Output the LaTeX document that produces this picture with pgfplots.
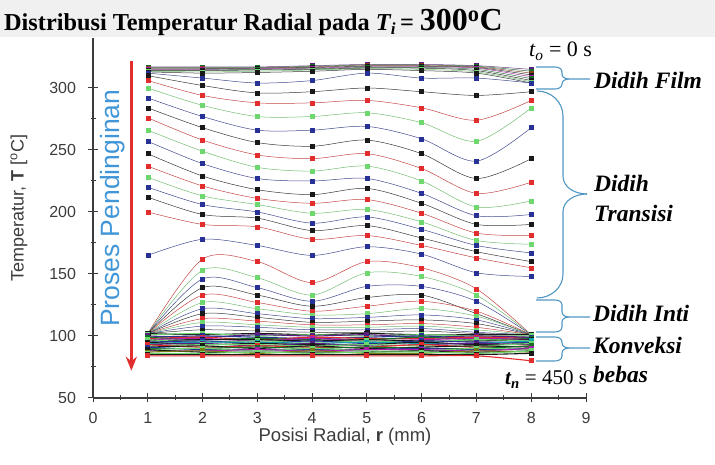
\documentclass[border=0pt]{standalone}
\usepackage{fontspec}
\setmainfont{Liberation Serif}
\setsansfont{Liberation Sans}
\usepackage{pgfplots}
\pgfplotsset{compat=1.18}
\usetikzlibrary{arrows.meta}

\definecolor{cblk}{RGB}{25,25,25}
\definecolor{cred}{RGB}{225,45,45}
\definecolor{cgrn}{RGB}{110,215,110}
\definecolor{cblu}{RGB}{40,50,150}
\definecolor{cmag}{RGB}{170,30,170}
\definecolor{colv}{RGB}{120,120,20}
\definecolor{cpur}{RGB}{90,30,130}
\definecolor{cdgn}{RGB}{20,110,40}
\definecolor{cbrn}{RGB}{140,60,30}
\definecolor{ccyn}{RGB}{20,160,170}
\definecolor{bracecol}{RGB}{80,150,195}
\definecolor{arrowtext}{RGB}{65,150,215}
\definecolor{axisgray}{RGB}{60,60,60}

% one temperature profile T(r) at r = 1..8 mm
\newcommand\crv[9]{\addplot[color=#1!70!gray, mark options={color=#1}]
  coordinates {(1,#2) (2,#3) (3,#4) (4,#5) (5,#6) (6,#7) (7,#8) (8,#9)};}
% profiles of the free-convection stage, drawn a little heavier
\newcommand\cv[9]{\addplot[color=#1, line width=1.1pt, mark options={color=#1}]
  coordinates {(1,#2) (2,#3) (3,#4) (4,#5) (5,#6) (6,#7) (7,#8) (8,#9)};}

% square bracket with a tip pointing right (pixel coordinates)
\newcommand\sqbrace[3]{%
  \draw[bracecol, line width=1.1pt] (536,#1) -- (555,#1) to[out=0,in=90] (562,{#1+5})
     -- (562,{#2-5}) to[out=-90,in=180] (569,#2) -- (590,#2);
  \draw[bracecol, line width=1.1pt] (536,#3) -- (555,#3) to[out=0,in=-90] (562,{#3-5})
     -- (562,{#2+5}) to[out=90,in=180] (569,#2);}

\begin{document}
\begin{tikzpicture}
\begin{scope}[shift={(0,465pt)}, x=1pt, y=-1pt]
  \useasboundingbox (0,0) rectangle (715,465);
  \fill[gray!12] (0,0) rectangle (715,37);
\end{scope}

\begin{axis}[
  at={(93pt,67pt)}, anchor=south west,
  scale only axis, width=493pt, height=359.6pt,
  xmin=0, xmax=9, ymin=50, ymax=340,
  axis x line=bottom, axis y line=left,
  axis line style={-, line width=1.1pt, axisgray},
  xtick={0,...,9}, ytick={50,100,...,300},
  minor x tick num=1, minor y tick num=1,
  tick align=center, major tick length=9pt, minor tick length=5pt,
  tick style={line width=1pt, axisgray},
  /pgf/number format/assume math mode=true,
  tick label style={font=\sffamily\fontsize{16}{16}\selectfont, text=axisgray},
  yticklabel style={xshift=-9pt},
  xticklabel style={yshift=-6pt},
  every axis plot/.append style={smooth, mark=square*, mark size=2pt, line width=0.5pt},
]
% film boiling
\crv{cpur}{317}{317}{317}{318}{319}{319}{318}{315}
\crv{cdgn}{316.5}{316.5}{316.5}{317.5}{318.5}{318.5}{317.5}{313.5}
\crv{cbrn}{316}{316}{316}{317}{318}{318}{317}{312}
\crv{cblk}{315.5}{315.5}{316}{316.5}{317.5}{317.5}{316.5}{310.5}
\crv{cmag}{315}{315}{315.5}{316}{317}{317}{316}{309}
\crv{cdgn}{314.5}{314.5}{315}{315.5}{316.5}{316.5}{315}{307.5}
\crv{cblk}{314}{314}{314.5}{315}{316}{316}{314}{306}
\crv{cgrn}{313.5}{313}{313.5}{314.5}{315.5}{315}{313}{305}
\crv{cblk}{313}{312}{312.5}{313.5}{315}{314}{312}{304}
% transition boiling
\crv{cblu}{312}{308}{304}{306}{312}{308}{308}{304}
\crv{cblk}{310}{302}{296}{297}{300}{297}{294}{297}
\crv{cred}{306}{294}{288}{288}{290}{284}{274}{290}
\crv{cgrn}{300}{286}{277}{277}{280}{272}{257}{284}
\crv{cblu}{292}{277}{266}{266}{269}{259}{241}{268}
\crv{cblk}{284}{268}{256}{253}{258}{247}{227}{243}
\crv{cred}{276}{258}{246}{243}{247}{235}{215}{224}
\crv{cgrn}{266}{249}{236}{233}{237}{225}{204}{209}
\crv{cblu}{257}{239}{227}{225}{227}{215}{197}{198}
\crv{cblk}{247}{229}{218}{214}{219}{207}{190}{190}
\crv{cred}{237}{221}{211}{207}{210}{199}{183}{181}
\crv{cgrn}{228}{213}{206}{199}{202}{192}{177}{174}
\crv{cblu}{220}{206}{200}{191}{196}{186}{173}{167}
\crv{cblk}{212}{198}{195}{185}{189}{179}{168}{160}
\crv{cred}{200}{190}{188}{178}{181}{173}{163}{155}
\crv{cblu}{165}{178}{173}{165}{172}{166}{151}{148}
% nucleate boiling
\crv{cred}{102}{162}{160}{143}{160}{155}{138}{101}
\crv{cgrn}{102}{153}{147}{133}{151}{148}{133}{101}
\crv{cblu}{102}{146}{139}{128}{140}{140}{128}{101}
\crv{cblk}{102}{139}{133}{124}{131}{133}{118}{101}
\crv{cred}{102}{133}{127}{120}{124}{128}{120}{101}
\crv{cgrn}{102}{127}{122}{117}{118}{122}{116}{101}
\crv{cblu}{102}{122}{118}{114}{115}{117}{113}{101}
\crv{cblk}{102}{118}{115}{111}{112}{113}{110}{101}
\crv{cred}{102}{114}{112}{109}{109}{110}{107}{101}
\crv{cgrn}{102}{111}{109}{107}{107}{108}{105}{101}
\crv{cblu}{102}{108}{107}{105}{105}{106}{103}{101}
\crv{cblk}{102}{105}{104}{103}{103}{104}{102}{101}
% free convection
\cv{cblk}{102}{101}{102}{101}{102}{101}{101}{101}
\cv{cgrn}{101}{102}{100}{101}{100}{101}{100}{100}
\cv{cpur}{100}{99}{101}{100}{101}{99}{100}{99}
\cv{cblu}{99}{100}{99}{98}{99}{100}{98}{99}
\cv{cred}{98}{99}{97}{99}{98}{98}{99}{98}
\cv{cdgn}{99}{97}{98}{97}{97}{99}{97}{98}
\cv{cmag}{97}{98}{96}{98}{96}{97}{98}{97}
\cv{cblk}{96}{97}{97}{96}{97}{96}{96}{97}
\cv{cgrn}{97}{95}{96}{95}{96}{95}{97}{96}
\cv{cblu}{95}{96}{94}{96}{94}{96}{95}{95}
\cv{ccyn}{94}{95}{95}{94}{95}{94}{94}{96}
\cv{cblk}{95}{93}{94}{93}{93}{95}{93}{94}
\cv{cpur}{93}{94}{92}{94}{92}{93}{94}{93}
\cv{cgrn}{92}{93}{93}{92}{93}{92}{92}{94}
\cv{cred}{93}{91}{92}{91}{91}{93}{91}{92}
\cv{cblk}{91}{92}{90}{92}{90}{91}{92}{91}
\cv{cdgn}{90}{90}{91}{90}{91}{90}{90}{92}
\cv{cblu}{91}{89}{89}{89}{89}{90}{89}{90}
\cv{cgrn}{89}{90}{88}{90}{88}{88}{90}{89}
\cv{cmag}{88}{88}{89}{88}{89}{89}{88}{90}
\cv{cblk}{89}{87}{87}{87}{87}{88}{87}{88}
\cv{colv}{87}{88}{86}{88}{86}{86}{88}{87}
\cv{cgrn}{86}{86}{87}{86}{87}{87}{86}{88}
\cv{cblk}{85}{85}{85}{85}{85}{85}{85}{86}
\cv{cred}{84}{84}{84}{84}{84}{84}{84}{80}

% cooling direction
\draw[cred, line width=2.6pt, -{Stealth[length=14pt, width=11pt]}]
  (axis cs:0.7,322) -- (axis cs:0.7,72);
\node[rotate=90, text=arrowtext, font=\sffamily\fontsize{26.5}{26.5}\selectfont]
  at (axis cs:0.36,203) {Proses Pendinginan};
\end{axis}

\begin{scope}[shift={(0,465pt)}, x=1pt, y=-1pt]
  % title
  \node[anchor=base west, inner sep=0] at (4,31)
    {\fontsize{24.3}{25}\selectfont\bfseries Distribusi Temperatur Radial pada
     \textit{T\textsubscript{i}}\,= {\fontsize{32}{32}\selectfont 300\textsuperscript{o}C}};
  % axis titles
  \node[rotate=90, font=\sffamily\fontsize{18}{18}\selectfont, text=axisgray] at (19,208)
    {Temperatur, \textbf{T} [\textsuperscript{o}C]};
  \node[font=\sffamily\fontsize{18.5}{18.5}\selectfont, text=axisgray] at (345,437)
    {Posisi Radial, \textbf{r} (mm)};
  % time stamps
  \node[anchor=base west, inner sep=0] at (529,57)
    {\fontsize{22}{22}\selectfont\textit{t\textsubscript{o}} = 0 s};
  \node[anchor=base west, inner sep=0] at (505,385)
    {\fontsize{21}{21}\selectfont\textbf{\textit{t\textsubscript{n}}} = 450 s};
  % boiling regimes
  \sqbrace{67}{79}{89}
  \draw[bracecol, line width=1.1pt] (537,91) to[out=0,in=90] (563,116) -- (563,176)
    to[out=-90,in=180] (587,194);
  \draw[bracecol, line width=1.1pt] (587,194) to[out=180,in=90] (563,212) -- (563,274)
    to[out=-90,in=0] (537,298);
  \sqbrace{300}{317}{332}
  \sqbrace{337}{348}{361}
  \begin{scope}[font=\fontsize{23.5}{25}\selectfont\bfseries\itshape]
    \node[anchor=west, inner sep=0] at (594,80) {Didih Film};
    \node[anchor=west, inner sep=0] at (594,183) {Didih};
    \node[anchor=west, inner sep=0] at (594,213) {Transisi};
    \node[anchor=west, inner sep=0] at (593,313) {Didih Inti};
    \node[anchor=west, inner sep=0] at (593,345) {Konveksi};
    \node[anchor=west, inner sep=0] at (593,374) {bebas};
  \end{scope}
\end{scope}
\end{tikzpicture}
\end{document}
